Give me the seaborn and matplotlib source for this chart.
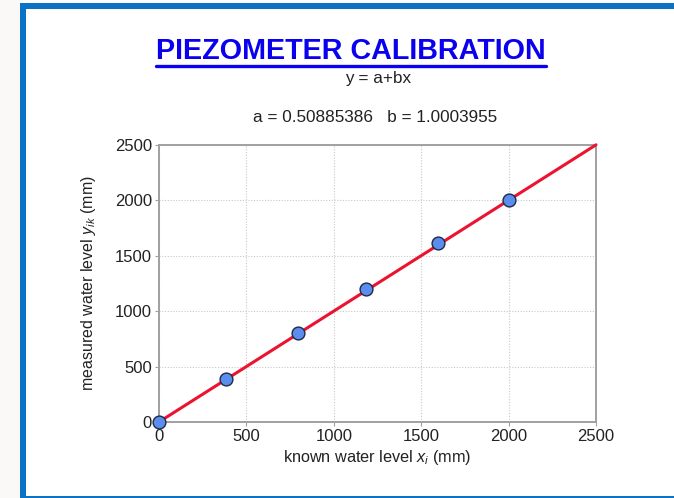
import matplotlib
matplotlib.use("Agg")
import matplotlib.pyplot as plt
import seaborn as sns
import numpy as np
import pandas as pd
from matplotlib.patches import Rectangle
from matplotlib.lines import Line2D

# ---- data ----
known_x = [0, 385, 795, 1185, 1595, 2000]
measured_y = [0, 390, 800, 1200, 1615, 2005]
a_coef = 0.50885386
b_coef = 1.0003955
fit_x = [0, 2500]
fit_y = [a_coef + b_coef * v for v in fit_x]
ticks = [0, 500, 1000, 1500, 2000, 2500]

sns.set_theme(style="white")
plt.rcParams['font.family'] = ['Liberation Sans', 'DejaVu Sans']
plt.rcParams['mathtext.fontset'] = 'custom'
plt.rcParams['mathtext.rm'] = 'Liberation Sans'
plt.rcParams['mathtext.it'] = 'Liberation Sans:italic'

W, H = 674, 498
fig = plt.figure(figsize=(W / 100, H / 100), dpi=100)
fig.patch.set_facecolor('white')

def fx(px):
    return px / W

def fy(py):
    return 1 - py / H

# outer light strip and blue frame
fig.add_artist(Rectangle((0, 0), fx(20), 1, transform=fig.transFigure,
                         facecolor='#faf9f7', edgecolor='none', zorder=0))
frame_col = '#0b72c4'
fig.add_artist(Rectangle((fx(20), 0), fx(6), 1 - 3 / H, transform=fig.transFigure,
                         facecolor=frame_col, edgecolor='none', zorder=0))
fig.add_artist(Rectangle((fx(20), fy(9)), 1 - fx(20), 6 / H, transform=fig.transFigure,
                         facecolor=frame_col, edgecolor='none', zorder=0))
fig.add_artist(Rectangle((fx(20), 0), 1 - fx(20), 2 / H, transform=fig.transFigure,
                         facecolor=frame_col, edgecolor='none', zorder=0))

ax = fig.add_axes([fx(159), fy(422), fx(596) - fx(159), (422 - 145) / H])
ax.set_facecolor('white')

df_fit = pd.DataFrame({'x': fit_x, 'y': fit_y})
df_pts = pd.DataFrame({'x': known_x, 'y': measured_y})

sns.lineplot(data=df_fit, x='x', y='y', ax=ax, color='#ec1230', linewidth=2.2,
             zorder=3, clip_on=False)
sns.scatterplot(data=df_pts, x='x', y='y', ax=ax, color='#5b8def', edgecolor='#1f2a44',
                linewidth=1.0, s=85, zorder=4, clip_on=False)

ax.set_xlim(0, 2500)
ax.set_ylim(0, 2500)
ax.set_xticks(ticks)
ax.set_yticks(ticks)
ax.set_xticklabels([str(t) for t in ticks])
ax.set_yticklabels([str(t) for t in ticks])
ax.grid(True, color='#c8c8c8', linestyle=(0, (1, 1.5)), linewidth=0.8)
for s in ax.spines.values():
    s.set_color('#a0a0a0')
    s.set_linewidth(1.4)
ax.tick_params(axis='both', which='both', direction='out', length=3, width=0.8,
               color='#a0a0a0', labelsize=12, labelcolor='#222222', pad=2,
               bottom=True, left=True)

ax.set_xlabel('known water level $x_i$ (mm)', fontsize=11.7, color='#222222', labelpad=3)
ax.set_ylabel('measured water level $y_{ik}$ (mm)', fontsize=11.5, color='#222222', labelpad=12)

# titles
t = fig.text(fx(351), fy(51), 'PIEZOMETER CALIBRATION', ha='center', va='center',
             fontsize=20.7, fontweight='bold', color='#0a00ee')
fig.text(fx(378), fy(79), 'y = a+bx', ha='center', va='center', fontsize=12.3, color='#222222')
fig.text(fx(375), fy(117), 'a = 0.50885386   b = 1.0003955', ha='center', va='center',
         fontsize=12.3, color='#222222')

fig.canvas.draw()
bb = t.get_window_extent(renderer=fig.canvas.get_renderer())
uy = bb.y0 - 1
fig.add_artist(Line2D([bb.x0 / W, bb.x1 / W], [uy / H, uy / H], transform=fig.transFigure,
                      color='#0a00ee', linewidth=2.4))

fig.savefig('out.png', dpi=100, facecolor='white')
